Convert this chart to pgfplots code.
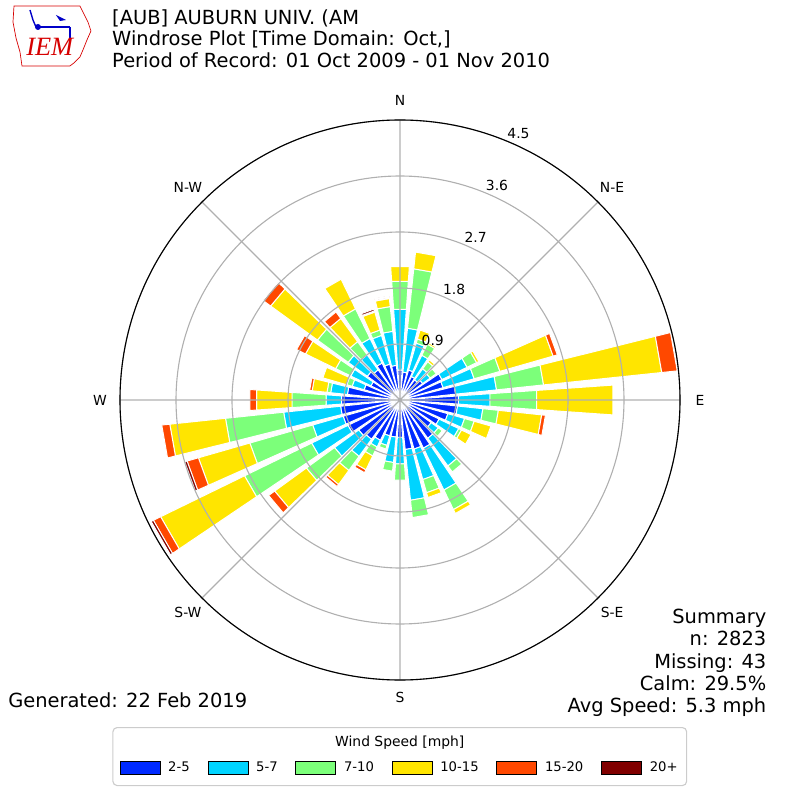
\documentclass[border=0pt]{standalone}
\usepackage{fontspec}
\setmainfont{DejaVu Sans}
\newfontfamily\logofont{Liberation Serif}
\usepackage{pgfplots}
\pgfplotsset{compat=1.18}
\usepackage{pgfplotstable}
\usepgfplotslibrary{polar}
\definecolor{ws1}{RGB}{0,42,255}
\definecolor{ws2}{RGB}{0,212,255}
\definecolor{ws3}{RGB}{124,255,122}
\definecolor{ws4}{RGB}{255,229,0}
\definecolor{ws5}{RGB}{255,72,0}
\definecolor{ws6}{RGB}{128,0,0}
\definecolor{gridgray}{RGB}{176,176,176}
\definecolor{legedge}{RGB}{204,204,204}
\definecolor{iemred}{RGB}{214,0,0}
\definecolor{iemblue}{RGB}{0,0,200}

% per-direction frequency (%) for each speed bin
\pgfplotstableread{
dir b1 b2 b3 b4 b5 b6
0 0.48 0.98 0.45 0.24 0 0
10 0.45 0.71 0.96 0.27 0 0
20 0.50 0.45 0.07 0.15 0 0
30 0.42 0.38 0.20 0.03 0 0
40 0.40 0.22 0.14 0.04 0 0
50 0.45 0.15 0.12 0 0 0
60 0.75 0.45 0.17 0.04 0 0
70 0.72 0.52 0.43 0.89 0.07 0
80 0.90 0.66 0.76 1.91 0.25 0
90 0.94 0.51 0.75 1.23 0 0
100 0.93 0.41 0.25 0.70 0.06 0
110 0.80 0.28 0.16 0.28 0 0
120 0.70 0.35 0.05 0.17 0 0
130 0.62 0.14 0.08 0 0 0
140 0.76 0.55 0.12 0 0 0
150 0.86 0.75 0.35 0.07 0 0
160 0.82 0.51 0.22 0.08 0 0
170 0.80 0.82 0.28 0 0 0
180 0.60 0.43 0.26 0 0 0
190 0.60 0.41 0.14 0 0 0
200 0.60 0.16 0.06 0 0 0
210 0.72 0.12 0.16 0.25 0.05 0
220 0.78 0.34 0.28 0.28 0.04 0
230 0.82 0.48 0.56 0.63 0.12 0
240 0.93 0.65 1.20 1.50 0.13 0.04
250 0.95 0.51 1.05 0.86 0.19 0.04
260 0.96 0.92 0.94 0.90 0.13 0
270 0.94 0.25 0.55 0.57 0.11 0
280 0.85 0.27 0.06 0.24 0.04 0
290 0.60 0.20 0.09 0.40 0 0
300 0.52 0.36 0.27 0.54 0.16 0
310 0.65 0.38 0.61 0.93 0.15 0
320 0.60 0.30 0.26 0.46 0.13 0
330 0.66 0.44 0.53 0.53 0 0
340 0.60 0.48 0.09 0.30 0.02 0.03
350 0.56 0.55 0.40 0.13 0.02 0.02
}\windtable

\begin{document}
\begin{tikzpicture}
\path[use as bounding box] (0,0) rectangle (8in,8in);
% annotations in image pixel coordinates
\begin{scope}[x=0.01in,y=-0.01in,shift={(0,8in)}]
  % logo
  \draw[iemred, line width=0.5pt] (14,6) -- (80,6) -- (84,14) -- (88,22) -- (91,31) -- (87,40) -- (83,50) -- (80,57) -- (74,63) -- (70,66) -- (22,66) -- (20,52) -- (16,38) -- (13,22) -- cycle;
  \draw[iemblue, line width=1.6pt] (36,27) -- (70,27);
  \fill[iemblue] (38,27) circle (3);
  \fill[iemblue] (56,15) -- (66,20) -- (60,21) -- cycle;
  \draw[iemblue, line width=1pt] (30,10) -- (33,20) -- (36,27);
  \draw[iemblue, line width=1pt] (70,27) -- (70,38);
  \node[anchor=base west, inner sep=0pt, text=iemred, font=\logofont\itshape\fontsize{19bp}{19bp}\selectfont] at (26,56) {IEM};
  % title
  \begin{scope}[every node/.style={anchor=base west, inner sep=0pt, font=\fontsize{14bp}{16bp}\selectfont}]
    \node at (112,24.5) {[AUB] AUBURN UNIV. (AM};
    \node at (112,46) {Windrose Plot [Time Domain: Oct,]};
    \node at (112,67.5) {Period of Record: 01 Oct 2009 - 01 Nov 2010};
    \node at (8,708) {Generated: 22 Feb 2019};
  \end{scope}
  \begin{scope}[every node/.style={anchor=base east, inner sep=0pt, font=\fontsize{14bp}{16bp}\selectfont}]
    \node at (767,624) {Summary};
    \node at (767,646.3) {n: 2823};
    \node at (767,668.6) {Missing: 43};
    \node at (767,690.9) {Calm: 29.5\%};
    \node at (767,713.2) {Avg Speed: 5.3 mph};
  \end{scope}
  % legend frame and title
  \draw[legedge, fill=white, rounded corners=3, line width=0.8pt] (113,728) rectangle (687,786);
  \node[inner sep=0pt, font=\fontsize{10bp}{12bp}\selectfont] at (400,743) {Wind Speed [mph]};
\end{scope}

\begin{polaraxis}[
  at={(4in,4in)}, anchor=center,
  scale only axis, width=5.6in, height=5.6in,
  xmin=0, xmax=360, ymin=0, ymax=4.5,
  xtick={0,45,...,315}, xticklabels={},
  ytick={0.9,1.8,2.7,3.6,4.5}, yticklabels={},
  grid=major,
  major grid style={draw=gridgray, line width=0.8pt},
  major tick length=0pt,
  separate axis lines,
  x axis line style={black, line width=0.8pt},
  y axis line style={draw=none},
  axis on top,
  clip=false,
  legend columns=6,
  legend style={at={(0.5,-0.157)}, anchor=center, draw=none, fill=none,
    font=\fontsize{9.5bp}{11bp}\selectfont,
    /tikz/every odd column/.append style={column sep=0.05in},
    /tikz/every even column/.append style={column sep=0.15in}},
  legend image code/.code={\draw[#1, draw=black, line width=0.6pt] (0in,-0.065in) rectangle (0.4in,0.065in);},
]
\pgfplotsforeachungrouped \i in {0,...,35}{%
  \pgfplotstablegetelem{\i}{dir}\of\windtable
  \let\wdir\pgfplotsretval
  \def\rbase{0}%
  \pgfplotsforeachungrouped \k in {1,...,6}{%
    \pgfplotstablegetelem{\i}{b\k}\of\windtable
    \let\binval\pgfplotsretval
    \ifdim\binval pt>0pt
      \pgfmathsetmacro\rtop{\rbase+\binval}%
      \pgfmathsetmacro\ta{450-\wdir-4}%
      \pgfmathsetmacro\tb{450-\wdir+4}%
      \edef\cmd{\noexpand\addplot[forget plot, fill=ws\k, draw=white, line width=0.7pt] coordinates {(\ta,\rbase) (\ta,\rtop) (\tb,\rtop) (\tb,\rbase)} -- cycle;}%
      \cmd
      \let\rbase\rtop
    \fi
  }%
}

% compass labels
\begin{scope}[every node/.style={font=\fontsize{10bp}{12bp}\selectfont, inner sep=0pt}]
\node at (axis cs:90,4.82) {N};
\node at (axis cs:45,4.82) {N-E};
\node at (axis cs:0,4.82) {E};
\node at (axis cs:315,4.82) {S-E};
\node at (axis cs:270,4.78) {S};
\node at (axis cs:225,4.82) {S-W};
\node at (axis cs:180,4.82) {W};
\node at (axis cs:135,4.82) {N-W};
\end{scope}
% radial labels
\begin{scope}[every node/.style={font=\fontsize{10bp}{12bp}\selectfont, inner sep=0pt, anchor=south west, yshift=0.02in}]
\node at (axis cs:67.5,0.9) {0.9};
\node at (axis cs:67.5,1.8) {1.8};
\node at (axis cs:67.5,2.7) {2.7};
\node at (axis cs:67.5,3.6) {3.6};
\node at (axis cs:67.5,4.5) {4.5};
\end{scope}

\addlegendimage{fill=ws1}\addlegendentry{2-5}
\addlegendimage{fill=ws2}\addlegendentry{5-7}
\addlegendimage{fill=ws3}\addlegendentry{7-10}
\addlegendimage{fill=ws4}\addlegendentry{10-15}
\addlegendimage{fill=ws5}\addlegendentry{15-20}
\addlegendimage{fill=ws6}\addlegendentry{20+}
\end{polaraxis}
\end{tikzpicture}
\end{document}
